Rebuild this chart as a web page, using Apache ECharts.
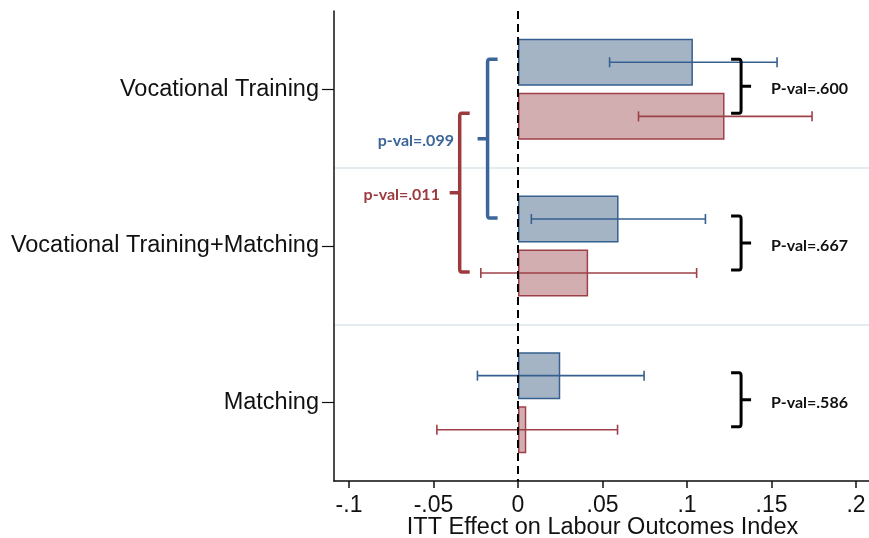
<!DOCTYPE html>
<html>
<head>
<meta charset="utf-8">
<script src="https://cdn.jsdelivr.net/npm/echarts@6/dist/echarts.min.js"></script>
<style>
html, body { margin: 0; padding: 0; background: #fff; }
#chart { width: 869px; height: 538px; }
</style>
</head>
<body>
<div id="chart"></div>
<script>
// data
var categories = ["Vocational Training", "Vocational Training+Matching", "Matching"];
var blueEffect = [0.1035, 0.0595, 0.0250];
var blueLow = [0.0542, 0.0079, -0.0240];
var blueHigh = [0.1533, 0.1109, 0.0746];
var redEffect = [0.1222, 0.0415, 0.0049];
var redLow = [0.0713, -0.0220, -0.0480];
var redHigh = [0.1740, 0.1057, 0.0589];
var withinPvals = ["P-val=.600", "P-val=.667", "P-val=.586"];
var acrossPvals = ["p-val=.099", "p-val=.011"];

var BLUE_FILL = "#a5b4c5", BLUE_LINE = "#35608f", BLUE_TEXT = "#3c6599";
var RED_FILL = "#d3aeb1", RED_LINE = "#9e4048", RED_TEXT = "#9c3a3e";
var BAR_W = 0.30, BAR_GAP = 0.15;
var OFFSET = BAR_W / 2 + BAR_W * BAR_GAP / 2;
var FONT = "'Liberation Sans', Arial, sans-serif";

function barCenterY(api, cat, side) {
  var band = Math.abs(api.size([0, 1])[1]);
  return api.coord([0, cat])[1] + side * OFFSET * band;
}

function fmtTick(v) {
  return String(Number(v.toFixed(3))).replace(/^(-?)0\./, "$1.");
}

var errData = [];
for (var i = 0; i < categories.length; i++) {
  errData.push([blueLow[i], i, blueHigh[i], -1]);
  errData.push([redLow[i], i, redHigh[i], 1]);
}

function renderErr(params, api) {
  var cat = api.value(1), side = api.value(3);
  var y = barCenterY(api, cat, side);
  var x0 = api.coord([api.value(0), cat])[0];
  var x1 = api.coord([api.value(2), cat])[0];
  var st = { stroke: side < 0 ? BLUE_LINE : RED_LINE, lineWidth: 1.6 };
  return {
    type: "group",
    children: [
      { type: "line", shape: { x1: x0, y1: y, x2: x1, y2: y }, style: st },
      { type: "line", shape: { x1: x0, y1: y - 5, x2: x0, y2: y + 5 }, style: st },
      { type: "line", shape: { x1: x1, y1: y - 5, x2: x1, y2: y + 5 }, style: st }
    ]
  };
}

// brace: spine at x, hooks point toward dir*-1, tip points toward dir
function bracePath(x, y0, y1, dir) {
  var ym = (y0 + y1) / 2, h = 10 * dir;
  return "M" + (x - h) + "," + y0 + " L" + (x - 2 * dir) + "," + y0 +
    " Q" + x + "," + y0 + " " + x + "," + (y0 + 3) +
    " L" + x + "," + (y1 - 3) +
    " Q" + x + "," + y1 + " " + (x - 2 * dir) + "," + y1 +
    " L" + (x - h) + "," + y1 +
    " M" + x + "," + ym + " L" + (x + h) + "," + ym;
}

// right braces: [x of spine, category, x of text]
var rightBraces = categories.map(function (c, i) { return [0.132, i, 0.1497]; });
function renderRight(params, api) {
  var cat = api.value(1);
  var x = api.coord([api.value(0), cat])[0];
  var tx = api.coord([api.value(2), cat])[0];
  var y0 = barCenterY(api, cat, -1) - 3, y1 = barCenterY(api, cat, 1) - 3;
  return {
    type: "group",
    children: [
      { type: "path", shape: { pathData: bracePath(x, y0, y1, 1) },
        style: { stroke: "#000", lineWidth: 3, fill: null } },
      { type: "text", x: tx, y: (y0 + y1) / 2 + 3,
        style: { text: withinPvals[params.dataIndex], fill: "#111", font: "bold 16px Lato",
          align: "left", verticalAlign: "middle" } }
    ]
  };
}

// left braces: [x of spine, first category, second category, side, x of text end]
var leftBraces = [[-0.018, 0, 1, -1, -0.0379], [-0.0345, 0, 1, 1, -0.0462]];
function renderLeft(params, api) {
  var side = api.value(3);
  var x = api.coord([api.value(0), 0])[0];
  var tx = api.coord([api.value(4), 0])[0];
  var y0 = barCenterY(api, api.value(1), side) - 3;
  var y1 = barCenterY(api, api.value(2), side) - 1;
  var col = side < 0 ? BLUE_TEXT : RED_TEXT;
  return {
    type: "group",
    children: [
      { type: "path", shape: { pathData: bracePath(x, y0, y1, -1) },
        style: { stroke: col, lineWidth: 3.5, fill: null } },
      { type: "text", x: tx, y: (y0 + y1) / 2 + 2,
        style: { text: acrossPvals[params.dataIndex], fill: col, font: "bold 16px Lato",
          align: "right", verticalAlign: "middle" } }
    ]
  };
}

var chart = echarts.init(document.getElementById("chart"));
chart.setOption({
  animation: false,
  backgroundColor: "#fff",
  grid: [
    { left: 349, right: 13, top: 11, bottom: 57, outerBoundsMode: "none" },
    { left: 334, right: 0, top: 11, bottom: 57, outerBoundsMode: "none" }
  ],
  xAxis: [
    {
      gridIndex: 0, type: "value", min: -0.1, max: 0.2, interval: 0.05,
      name: "ITT Effect on Labour Outcomes Index",
      nameLocation: "middle", nameGap: 35, nameMoveOverlap: false,
      nameTextStyle: { fontFamily: FONT, fontSize: 23.5, color: "#111" },
      axisLine: { show: false },
      axisTick: { show: true, length: 7, lineStyle: { color: "#111", width: 1.5 } },
      axisLabel: { formatter: fmtTick, margin: 13, fontFamily: FONT, fontSize: 23, color: "#111" },
      splitLine: { show: false }
    },
    {
      gridIndex: 1, type: "value", min: 0, max: 1,
      axisLine: { show: true, lineStyle: { color: "#111", width: 1.5 } },
      axisTick: { show: false }, axisLabel: { show: false }, splitLine: { show: false }
    }
  ],
  yAxis: [
    { gridIndex: 0, type: "category", data: categories, inverse: true, show: false },
    {
      gridIndex: 1, type: "category", data: categories, inverse: true,
      axisLine: { show: true, lineStyle: { color: "#111", width: 1.5 } },
      axisTick: { show: true, alignWithLabel: true, length: 12, lineStyle: { color: "#111", width: 1.2 } },
      axisLabel: { margin: 15, fontFamily: FONT, fontSize: 23.5, color: "#111" },
      splitLine: {
        show: true,
        interval: function (idx) { return idx > 0; },
        lineStyle: { color: "#e4ecf0", width: 2 }
      }
    }
  ],
  series: [
    {
      name: "blue", type: "bar", xAxisIndex: 0, yAxisIndex: 0,
      data: blueEffect, barWidth: BAR_W * 100 + "%", barGap: BAR_GAP * 100 + "%",
      itemStyle: { color: BLUE_FILL, borderColor: BLUE_LINE, borderWidth: 1.5 },
      markLine: {
        silent: true, symbol: "none", label: { show: false },
        lineStyle: { color: "#000", type: [8, 5], width: 2 },
        data: [{ xAxis: 0 }]
      }
    },
    {
      name: "red", type: "bar", xAxisIndex: 0, yAxisIndex: 0,
      data: redEffect, barWidth: BAR_W * 100 + "%", barGap: BAR_GAP * 100 + "%",
      itemStyle: { color: RED_FILL, borderColor: RED_LINE, borderWidth: 1.5 }
    },
    { type: "custom", xAxisIndex: 0, yAxisIndex: 0, renderItem: renderErr, data: errData, z: 3 },
    { type: "custom", xAxisIndex: 0, yAxisIndex: 0, renderItem: renderRight, data: rightBraces, z: 3 },
    { type: "custom", xAxisIndex: 0, yAxisIndex: 0, renderItem: renderLeft, data: leftBraces, z: 3 }
  ]
});
</script>
</body>
</html>
